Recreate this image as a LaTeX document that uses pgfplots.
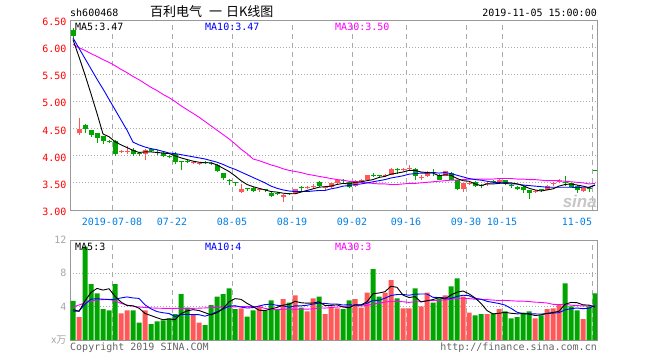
\documentclass[border=0pt]{standalone}
\usepackage{pgfplots}
\pgfplotsset{compat=1.18}
\usepackage{pgfplotstable}
\usepackage{fontspec}
\setmainfont{DejaVu Sans}
\setmonofont{DejaVu Sans Mono}
\newfontfamily\cjk{Noto Sans CJK SC}
\newfontfamily\sinafont{Liberation Sans}
\definecolor{kred}{RGB}{255,88,88}
\definecolor{kgreen}{RGB}{0,165,0}
\definecolor{tickblue}{RGB}{0,128,230}
\definecolor{mablue}{RGB}{0,0,255}
\definecolor{mamag}{RGB}{255,0,255}
\definecolor{framegray}{RGB}{153,153,153}
\definecolor{gridgray}{RGB}{170,170,170}
\definecolor{labgray}{RGB}{165,165,165}
\definecolor{copygray}{RGB}{100,100,100}
\pgfplotsset{
  kax/.style={
    scale only axis, width=527pt, xmin=0.5, xmax=88.33,
    axis line style={draw=framegray, line width=1pt},
    major tick length=0pt,
    xmajorgrids, ymajorgrids,
    x grid style={draw=gridgray, line width=0.9pt, dash pattern=on 5pt off 4pt},
    y grid style={draw=gridgray, line width=0.9pt, dash pattern=on 1pt off 2pt},
    xtick={7.5,17.5,27.5,37.5,47.5,56.5,66.5,72.5,87.5},
    tick label style={font=\ttfamily},
  },
  wick/.style={only marks, mark=*, mark size=0pt, mark options={draw=none, fill=none}, forget plot, error bars/.cd, y dir=plus, y explicit, error mark=none, error bar style={draw=#1, line width=1pt}},
  body/.style={only marks, mark=*, mark size=0pt, mark options={draw=none, fill=none}, forget plot, error bars/.cd, y dir=plus, y explicit, error mark=none, error bar style={draw=#1, line width=5pt}},
}
\begin{document}
% i open high low close volume
\pgfplotstableread{
i o h l c v
2 4.41 4.69 4.39 4.50 2.76
9 4.06 4.10 4.05 4.08 3.2
10 4.07 4.17 4.03 4.09 3.55
13 4.03 4.12 3.93 4.10 3.55
21 3.87 3.90 3.85 3.88 3.1
22 3.85 3.87 3.82 3.86 2.1
29 3.33 3.47 3.32 3.38 3.8
32 3.36 3.40 3.34 3.38 4.0
36 3.24 3.29 3.15 3.28 4.9
38 3.30 3.39 3.29 3.38 5.35
40 3.40 3.44 3.39 3.42 3.45
41 3.42 3.48 3.40 3.44 5.0
43 3.40 3.45 3.37 3.42 3.1
44 3.42 3.50 3.41 3.49 4.0
45 3.49 3.57 3.48 3.56 3.8
48 3.45 3.56 3.42 3.54 4.9
49 3.53 3.58 3.52 3.55 3.9
50 3.56 3.65 3.55 3.64 5.7
53 3.62 3.67 3.60 3.64 5.7
54 3.65 3.78 3.64 3.75 7.2
56 3.73 3.77 3.72 3.76 3.8
57 3.75 3.83 3.71 3.77 3.8
59 3.59 3.64 3.56 3.61 4.05
60 3.62 3.72 3.61 3.70 5.7
63 3.63 3.72 3.62 3.71 5.35
66 3.38 3.50 3.34 3.49 5.2
67 3.48 3.54 3.46 3.50 3.3
70 3.47 3.51 3.44 3.49 3.1
72 3.51 3.58 3.50 3.56 3.7
78 3.33 3.36 3.31 3.34 2.6
80 3.37 3.46 3.36 3.45 3.7
81 3.47 3.51 3.45 3.49 3.8
82 3.52 3.57 3.50 3.54 4.2
86 3.35 3.41 3.34 3.40 2.5
}\tabUp
\pgfplotstableread{
i o h l c v
1 6.32 6.35 6.17 6.20 4.7
3 4.57 4.59 4.41 4.50 11.2
4 4.48 4.48 4.35 4.39 6.7
5 4.41 4.42 4.24 4.33 5.6
6 4.36 4.36 4.22 4.27 3.7
7 4.28 4.29 4.24 4.26 3.55
8 4.27 4.29 3.99 4.04 6.7
11 4.10 4.14 3.99 4.04 3.55
12 4.05 4.07 3.99 4.04 2.1
14 4.12 4.14 4.06 4.09 1.9
15 4.07 4.10 4.01 4.05 2.25
16 4.05 4.06 3.98 3.99 2.35
17 3.99 4.01 3.95 3.98 2.6
18 4.04 4.06 3.84 3.89 3.1
19 3.90 3.91 3.73 3.89 5.5
20 3.90 3.93 3.86 3.88 3.9
23 3.88 3.90 3.84 3.86 1.8
24 3.86 3.88 3.82 3.85 4.2
25 3.83 3.84 3.70 3.71 5.2
26 3.69 3.69 3.56 3.59 5.5
27 3.54 3.57 3.46 3.53 6.2
28 3.50 3.52 3.45 3.49 3.7
30 3.39 3.41 3.35 3.38 2.8
31 3.41 3.42 3.33 3.35 3.55
33 3.37 3.38 3.33 3.36 3.55
34 3.32 3.33 3.24 3.25 4.75
35 3.31 3.33 3.27 3.29 3.7
37 3.31 3.32 3.27 3.30 4.5
39 3.41 3.45 3.35 3.40 3.9
42 3.51 3.53 3.43 3.45 5.2
46 3.55 3.58 3.49 3.53 3.7
47 3.51 3.53 3.40 3.42 4.75
51 3.65 3.69 3.60 3.63 8.5
52 3.63 3.65 3.59 3.62 5.2
55 3.76 3.78 3.67 3.74 5.0
58 3.76 3.77 3.55 3.62 6.2
61 3.69 3.76 3.62 3.68 4.5
62 3.65 3.66 3.55 3.56 5.0
64 3.69 3.70 3.55 3.56 6.45
65 3.55 3.56 3.37 3.38 7.4
68 3.51 3.53 3.43 3.45 2.95
69 3.46 3.48 3.40 3.45 3.1
71 3.53 3.55 3.49 3.52 3.2
73 3.55 3.56 3.46 3.48 3.45
74 3.46 3.48 3.40 3.45 2.6
75 3.43 3.45 3.36 3.38 2.75
76 3.43 3.44 3.32 3.36 3.3
77 3.36 3.37 3.21 3.32 3.45
79 3.37 3.38 3.33 3.36 2.95
83 3.50 3.62 3.45 3.49 6.8
84 3.49 3.50 3.42 3.43 4.05
85 3.45 3.46 3.32 3.36 3.55
87 3.41 3.42 3.33 3.38 4.05
88 3.72 3.72 3.72 3.72 5.6
}\tabDn
% moving averages: price MA5 MA10 MA30, volume MA5 MA10 MA30
\pgfplotstableread{
i ma5 ma10 ma30 vma5 vma10 vma30
1 6.14 6.17 6.05 3.65 3.46 3.95
2 5.82 5.98 5.99 3.45 3.46 4.20
3 5.49 5.79 5.94 4.70 4.30 4.45
4 5.14 5.60 5.88 5.70 4.90 4.70
5 4.78 5.41 5.83 6.19 4.95 4.80
6 4.40 5.23 5.77 5.99 4.90 4.85
7 4.35 5.04 5.72 6.15 4.85 4.88
8 4.26 4.85 5.66 5.25 4.90 4.70
9 4.20 4.66 5.59 4.55 5.05 4.40
10 4.15 4.47 5.53 4.14 5.17 4.20
11 4.10 4.25 5.46 4.11 5.05 4.05
12 4.06 4.20 5.40 3.82 4.99 3.96
13 4.07 4.16 5.33 3.19 4.22 3.90
14 4.07 4.13 5.26 2.93 3.74 3.85
15 4.06 4.11 5.20 2.67 3.41 3.82
16 4.05 4.08 5.13 2.43 3.27 3.80
17 4.04 4.05 5.07 2.53 3.18 3.80
18 4.00 4.04 5.00 2.44 2.82 3.80
19 3.96 4.02 4.92 3.16 3.05 3.80
20 3.93 4.00 4.85 3.49 3.08 3.80
21 3.90 3.98 4.78 3.64 3.04 3.80
22 3.88 3.96 4.71 3.54 3.04 3.82
23 3.87 3.94 4.63 3.28 2.86 3.85
24 3.87 3.91 4.55 3.02 3.09 3.88
25 3.83 3.88 4.47 3.28 3.39 3.92
26 3.77 3.84 4.39 3.76 3.70 3.95
27 3.71 3.79 4.31 4.58 4.06 3.96
28 3.63 3.75 4.22 4.96 4.12 3.98
29 3.54 3.70 4.12 4.88 3.95 4.00
30 3.47 3.65 4.04 4.40 3.84 4.03
31 3.43 3.60 3.94 4.01 3.89 3.99
32 3.40 3.55 3.91 3.57 4.08 4.03
33 3.37 3.50 3.87 3.54 4.25 3.78
34 3.34 3.44 3.83 3.73 4.31 3.71
35 3.33 3.40 3.80 3.91 4.16 3.65
36 3.31 3.37 3.76 4.18 4.10 3.69
37 3.30 3.35 3.73 4.28 3.93 3.72
38 3.30 3.34 3.71 4.64 4.09 3.68
39 3.33 3.34 3.69 4.47 4.10 3.70
40 3.36 3.34 3.66 4.42 4.17 3.70
41 3.39 3.35 3.64 4.44 4.31 3.74
42 3.42 3.36 3.62 4.58 4.43 3.85
43 3.43 3.36 3.60 4.13 4.39 3.83
44 3.44 3.39 3.58 4.15 4.31 3.90
45 3.47 3.41 3.56 4.22 4.32 3.95
46 3.49 3.44 3.55 3.96 4.20 4.00
47 3.48 3.45 3.53 3.87 4.23 4.07
48 3.51 3.47 3.52 4.23 4.18 4.13
49 3.52 3.48 3.51 4.21 4.18 4.08
50 3.54 3.50 3.50 4.59 4.41 4.14
51 3.56 3.52 3.49 5.55 4.76 4.32
52 3.60 3.54 3.48 5.64 4.76 4.42
53 3.62 3.56 3.48 5.80 5.02 4.55
54 3.66 3.59 3.47 6.46 5.34 4.65
55 3.68 3.61 3.47 6.32 5.46 4.64
56 3.70 3.63 3.48 5.38 5.47 4.59
57 3.73 3.66 3.49 5.10 5.37 4.51
58 3.73 3.67 3.49 5.20 5.50 4.59
59 3.70 3.68 3.50 4.57 5.52 4.60
60 3.69 3.68 3.51 4.71 5.52 4.70
61 3.68 3.69 3.52 4.85 5.12 4.73
62 3.63 3.68 3.53 5.09 5.10 4.76
63 3.65 3.69 3.54 4.92 5.06 4.82
64 3.64 3.67 3.55 5.40 4.99 4.88
65 3.58 3.64 3.55 5.74 5.23 5.00
66 3.54 3.61 3.56 5.88 5.37 5.01
67 3.53 3.58 3.57 5.54 5.32 4.97
68 3.48 3.56 3.57 5.06 4.99 4.89
69 3.45 3.55 3.57 4.39 4.90 4.86
70 3.48 3.53 3.57 3.53 4.64 4.85
71 3.48 3.51 3.57 3.13 4.51 4.79
72 3.49 3.51 3.58 3.21 4.38 4.74
73 3.50 3.49 3.58 3.31 4.19 4.75
74 3.50 3.48 3.58 3.21 3.80 4.71
75 3.48 3.48 3.57 3.14 3.34 4.67
76 3.45 3.46 3.57 3.16 3.15 4.66
77 3.40 3.45 3.56 3.11 3.16 4.62
78 3.37 3.44 3.56 2.94 3.13 4.54
79 3.35 3.43 3.55 3.01 3.11 4.51
80 3.37 3.42 3.54 3.20 3.17 4.44
81 3.39 3.42 3.54 3.30 3.23 4.28
82 3.44 3.42 3.54 3.45 3.28 4.25
83 3.47 3.42 3.53 4.29 3.62 4.29
84 3.48 3.42 3.52 4.51 3.76 4.18
85 3.46 3.41 3.51 4.48 3.84 4.13
86 3.44 3.42 3.50 4.22 3.76 4.09
87 3.41 3.42 3.48 4.19 3.82 4.10
88 3.46 3.46 3.49 3.95 4.12 4.08
}\tabMA
\begin{tikzpicture}[x=1pt,y=1pt]
\useasboundingbox (0,0) rectangle (660,360);
% ---------- price panel ----------
\begin{axis}[kax, at={(70pt,150pt)}, anchor=south west, height=190pt,
  ymin=3, ymax=6.5,
  ytick={3,3.5,4,4.5,5,5.5,6,6.5},
  yticklabels={3.00,3.50,4.00,4.50,5.00,5.50,6.00,6.50},
  yticklabel style={text=red, yshift=-1.8pt},
  xticklabels={2019-07-08,07-22,08-05,08-19,09-02,09-16,09-30,10-15,\makebox[0pt][r]{11-05}},
  xticklabel style={text=tickblue, yshift=-4.4pt},
]
\addplot[wick=kred] table[x=i, y=l, y error plus expr={\thisrow{h}-\thisrow{l}}] {\tabUp};
\addplot[wick=kgreen] table[x=i, y=l, y error plus expr={\thisrow{h}-\thisrow{l}}] {\tabDn};
\addplot[body=kred] table[x=i, y expr={min(\thisrow{o},\thisrow{c})}, y error plus expr={max(abs(\thisrow{c}-\thisrow{o}),0.019)}] {\tabUp};
\addplot[body=kgreen] table[x=i, y expr={min(\thisrow{o},\thisrow{c})}, y error plus expr={max(abs(\thisrow{c}-\thisrow{o}),0.019)}] {\tabDn};
\addplot[mamag, line width=0.9pt, mark=none] table[x=i, y=ma30] {\tabMA};
\addplot[mablue, line width=0.9pt, mark=none] table[x=i, y=ma10] {\tabMA};
\addplot[black, line width=0.9pt, mark=none] table[x=i, y=ma5] {\tabMA};
\end{axis}
% ---------- volume panel ----------
\begin{axis}[kax, at={(70pt,20pt)}, anchor=south west, height=100pt,
  ymin=0, ymax=12,
  ytick={0,4,8,12},
  yticklabels={{\cjk x万},4,8,12},
  yticklabel style={text=labgray},
  xticklabels={},
]
\addplot[ybar, bar width=5pt, bar shift=0pt, fill=kred, draw=none] table[x=i, y=v] {\tabUp};
\addplot[ybar, bar width=5pt, bar shift=0pt, fill=kgreen, draw=none] table[x=i, y=v] {\tabDn};
\addplot[mamag, line width=0.9pt, mark=none] table[x=i, y=vma30] {\tabMA};
\addplot[mablue, line width=0.9pt, mark=none] table[x=i, y=vma10] {\tabMA};
\addplot[black, line width=0.9pt, mark=none] table[x=i, y=vma5] {\tabMA};
\end{axis}
% ---------- texts ----------
\node[anchor=base west, inner sep=0] at (70,343.3) {\ttfamily sh600468};
\node[anchor=base west, inner sep=0] at (150,343.3) {\cjk\fontsize{13pt}{13pt}\selectfont 百利电气\hspace{4pt} 一\hspace{1pt} 日K线图};
\node[anchor=base east, inner sep=0] at (597,343.3) {\ttfamily 2019-11-05 15:00:00};
\node[anchor=base west, inner sep=0] at (75,330) {\ttfamily MA5:3.47};
\node[anchor=base west, inner sep=0, text=mablue] at (205,330) {\ttfamily MA10:3.47};
\node[anchor=base west, inner sep=0, text=mamag] at (335,330) {\ttfamily MA30:3.50};
\node[anchor=base west, inner sep=0] at (75,110) {\ttfamily MA5:3};
\node[anchor=base west, inner sep=0, text=mablue] at (205,110) {\ttfamily MA10:4};
\node[anchor=base west, inner sep=0, text=mamag] at (335,110) {\ttfamily MA30:3};
\node[anchor=base east, inner sep=0, text=gray!45] at (597,153) {\sinafont\bfseries\itshape\fontsize{17pt}{17pt}\selectfont sina};
\node[anchor=base west, inner sep=0, text=copygray] at (70,10) {\ttfamily Copyright 2019 SINA.COM};
\node[anchor=base east, inner sep=0, text=copygray] at (597,10) {\ttfamily http://finance.sina.com.cn};
\end{tikzpicture}
\end{document}
